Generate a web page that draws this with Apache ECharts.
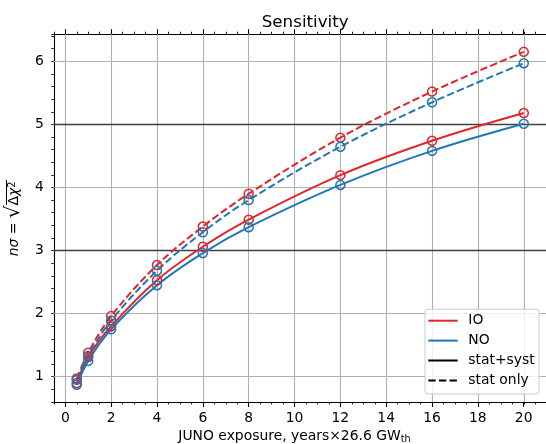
<!DOCTYPE html>
<html><head><meta charset="utf-8">
<script src="https://cdn.jsdelivr.net/npm/echarts@6/dist/echarts.min.js"></script>
<style>html,body{margin:0;padding:0;background:#fff}#c{width:546px;height:444px}</style>
</head><body><div id="c"></div>
<script>
// ---- data ----
const exposure = [0.5, 1, 2, 4, 6, 8, 12, 16, 20];
const ioStatSyst = [0.90, 1.31, 1.80, 2.53, 3.06, 3.49, 4.195, 4.74, 5.18];
const noStatSyst = [0.87, 1.25, 1.75, 2.45, 2.96, 3.37, 4.04, 4.58, 5.01];
const ioStatOnly = [0.97, 1.38, 1.96, 2.77, 3.38, 3.90, 4.79, 5.52, 6.15];
const noStatOnly = [0.95, 1.33, 1.89, 2.68, 3.29, 3.80, 4.645, 5.35, 5.97];
const xTickLabels = [0, 2, 4, 6, 8, 10, 12, 14, 16, 18, 20];
const yTickLabels = [1, 2, 3, 4, 5, 6];
const sigmaLines = [3, 5];
const legendNames = ['IO', 'NO', 'stat+syst', 'stat only'];

// ---- style ----
const RED = '#e0252b', BLUE = '#1f77b4';
const FONT = 'DejaVu Sans';
const DASH = [7.4, 3.2];
const pair = (xs, ys) => xs.map((x, i) => [x, ys[i]]);

function curve(name, ys, color, dashed) {
  return {
    type: 'line', name, xAxisIndex: 0, yAxisIndex: 0,
    data: pair(exposure, ys), smooth: 0.35,
    symbol: 'circle', symbolSize: 9, z: 3, animation: false,
    lineStyle: { color, width: 2, type: dashed ? DASH : 'solid' },
    itemStyle: { color: 'rgba(0,0,0,0)', borderColor: color, borderWidth: 1.5 },
    emphasis: { disabled: true }
  };
}

const gridLines = [];
xTickLabels.forEach(v => gridLines.push({ xAxis: v, lineStyle: { color: '#b0b0b0', width: 1.1, type: 'solid' } }));
yTickLabels.forEach(v => gridLines.push({ yAxis: v, lineStyle: sigmaLines.includes(v)
  ? { color: '#404040', width: 1.4, type: 'solid' }
  : { color: '#b0b0b0', width: 1.1, type: 'solid' } }));

const minorAxisCommon = {
  axisLine: { show: true, onZero: false, lineStyle: { color: '#000', width: 1.1 } },
  axisTick: { show: true, length: 2.5, lineStyle: { color: '#000', width: 0.9 } },
  axisLabel: { show: false }, splitLine: { show: false }
};
const majorTick = { show: true, length: 5, lineStyle: { color: '#000', width: 1.1 } };
const tickFont = { fontFamily: FONT, fontSize: 13.9, color: '#000' };

// legend layout
const LX = 425, LY = 309.3, rowH = 19.9;
const legendGraphics = [
  { type: 'rect', z: 100, shape: { x: LX, y: LY, width: 114, height: 84.7, r: 3 },
    style: { fill: 'rgba(255,255,255,0.8)', stroke: '#cccccc', lineWidth: 1 } },
  // vinculum of the square root in the y-axis title
  { type: 'line', z: 100, shape: { x1: 6.5, y1: 180, x2: 6.5, y2: 204.8 },
    style: { stroke: '#000', lineWidth: 1 } }
];
const legendStyles = [
  { stroke: RED, lineDash: null }, { stroke: BLUE, lineDash: null },
  { stroke: '#000', lineDash: null }, { stroke: '#000', lineDash: DASH }
];
legendNames.forEach((n, i) => {
  const y = LY + 11.4 + i * rowH;
  legendGraphics.push({ type: 'line', z: 101, shape: { x1: 428.3, y1: y, x2: 457.7, y2: y },
    style: { stroke: legendStyles[i].stroke, lineWidth: 2, lineDash: legendStyles[i].lineDash } });
  legendGraphics.push({ type: 'text', z: 101, x: 468.3, y: y,
    style: { text: n, fontFamily: FONT, fontSize: 13.9, fill: '#000', verticalAlign: 'middle', align: 'left' } });
});

const option = {
  animation: false,
  backgroundColor: '#fff',
  title: { text: 'Sensitivity', left: 300.2, top: 9, textAlign: 'center',
    textStyle: { fontFamily: FONT, fontSize: 16.7, fontWeight: 'normal', color: '#000' } },
  grid: [
    { left: 53.84, right: 0, top: 34.2, bottom: 42.1, containLabel: false, outerBoundsMode: 'none' },
    { left: 65.3, right: 22.3, top: 61.3, bottom: 67.3, containLabel: false, outerBoundsMode: 'none' }
  ],
  xAxis: [
    Object.assign({ type: 'value', gridIndex: 0, position: 'bottom', min: -0.5, max: 20.97, interval: 0.5 }, minorAxisCommon),
    Object.assign({ type: 'value', gridIndex: 0, position: 'top', min: -0.5, max: 20.97, interval: 0.5 }, minorAxisCommon),
    { type: 'value', gridIndex: 1, position: 'bottom', offset: 25.2, min: 0, max: 20, interval: 2,
      axisLine: { show: false }, axisTick: majorTick, splitLine: { show: false },
      axisLabel: Object.assign({ show: true, margin: 9 }, tickFont),
      name: 'JUNO exposure, years×26.6 GW{sub|th}', nameLocation: 'middle', nameGap: 27,
      nameTextStyle: { fontFamily: FONT, fontSize: 13.9, color: '#000',
        rich: { sub: { fontFamily: FONT, fontSize: 9.7, color: '#000', verticalAlign: 'bottom', padding: [5, 0, 0, 0] } } } },
    { type: 'value', gridIndex: 1, position: 'top', offset: 27.1, min: 0, max: 20, interval: 2,
      axisLine: { show: false }, axisTick: majorTick, splitLine: { show: false }, axisLabel: { show: false } }
  ],
  yAxis: [
    Object.assign({ type: 'value', gridIndex: 0, position: 'left', min: 0.6, max: 6.43, interval: 0.2 }, minorAxisCommon),
    { type: 'value', gridIndex: 1, position: 'left', offset: 11.46, min: 1, max: 6, interval: 1,
      axisLine: { show: false }, axisTick: majorTick, splitLine: { show: false },
      axisLabel: Object.assign({ show: true, margin: 10 }, tickFont),
      name: '{i|nσ} = {r|√}{b|Δ}{i|χ}{sup|2}', nameLocation: 'middle', nameRotate: 90, nameGap: 23.5,
      nameTextStyle: { fontFamily: FONT, fontSize: 13.9, color: '#000',
        rich: { i: { fontFamily: FONT, fontSize: 13.9, fontStyle: 'italic', color: '#000' },
                b: { fontFamily: FONT, fontSize: 13.9, color: '#000' },
                r: { fontFamily: FONT, fontSize: 20, color: '#000' },
                sup: { fontFamily: FONT, fontSize: 9.7, color: '#000', verticalAlign: 'top', padding: [3, 0, 0, 0] } } } }
  ],
  graphic: legendGraphics,
  series: [
    { type: 'line', name: 'grid', xAxisIndex: 0, yAxisIndex: 0, data: [], z: 1, silent: true,
      markLine: { symbol: 'none', silent: true, animation: false, z: 1, label: { show: false },
        emphasis: { disabled: true }, data: gridLines } },
    curve('IO stat+syst', ioStatSyst, RED, false),
    curve('NO stat+syst', noStatSyst, BLUE, false),
    curve('IO stat only', ioStatOnly, RED, true),
    curve('NO stat only', noStatOnly, BLUE, true)
  ]
};
const chart = echarts.init(document.getElementById('c'), null, { renderer: 'canvas' });
chart.setOption(option);
</script>
</body></html>
